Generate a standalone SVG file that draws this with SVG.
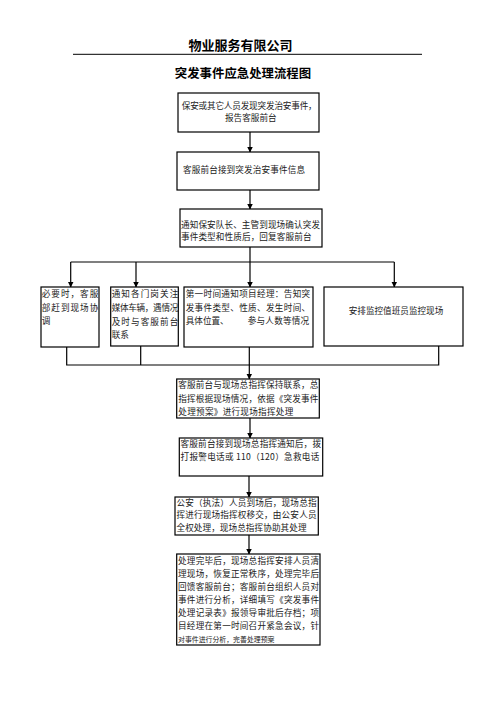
<svg xmlns="http://www.w3.org/2000/svg" width="496" height="702" viewBox="0 0 496 702">
<style>
.box{fill:#fff;stroke:#000;stroke-width:1.2}
.t{font-family:"Noto Sans CJK SC","Liberation Serif",serif;font-size:8.6px;fill:#222}
.c{stroke:#000;stroke-width:1.2;fill:none}
.a{marker-end:url(#ah)}
.h{font-family:"Noto Sans CJK SC","Liberation Sans",sans-serif;font-weight:bold;fill:#000}
</style>
<defs>
<marker id="ah" markerUnits="userSpaceOnUse" markerWidth="6" markerHeight="6" refX="5.5" refY="3" orient="auto">
<path d="M0,0 L6,3 L0,6 z" fill="#000"/>
</marker>
</defs>
<rect width="496" height="702" fill="#fff"/>
<g id="header">
<text class="h" x="240.5" y="49.5" font-size="13" text-anchor="middle">物业服务有限公司</text>
<line x1="73" y1="54.3" x2="422" y2="54.3" stroke="#000" stroke-width="1"/>
<text class="h" x="243" y="78" font-size="12.4" text-anchor="middle">突发事件应急处理流程图</text>
</g>
<g id="connectors">
<line class="c a" x1="250" y1="132" x2="250" y2="152"/>
<line class="c a" x1="250" y1="190" x2="250" y2="209"/>
<line class="c" x1="250" y1="247" x2="250" y2="262"/>
<line class="c" x1="70.7" y1="262" x2="394.3" y2="262"/>
<line class="c a" x1="70.7" y1="262" x2="70.7" y2="287"/>
<line class="c a" x1="136" y1="262" x2="136" y2="287"/>
<line class="c a" x1="250" y1="262" x2="250" y2="287"/>
<line class="c a" x1="394.3" y1="262" x2="394.3" y2="287"/>
<path class="c" d="M66.7,346 V365 H438.7 V346 M140.7,346 V365"/>
<line class="c a" x1="249.3" y1="347" x2="249.3" y2="379"/>
<line class="c a" x1="250" y1="418" x2="250" y2="438"/>
<line class="c a" x1="249" y1="476" x2="249" y2="497"/>
<line class="c a" x1="249" y1="535" x2="249" y2="554"/>
</g>
<g id="n1">
<rect class="box" x="178" y="93" width="141" height="39"/>
<text class="t" x="181.7" y="109.2" textLength="135" lengthAdjust="spacing">保安或其它人员发现突发治安事件，</text>
<text class="t" x="225" y="121.2">报告客服前台</text>
</g>
<g id="n2">
<rect class="box" x="177" y="152" width="142" height="38"/>
<text class="t" x="183" y="173.2" textLength="122" lengthAdjust="spacing">客服前台接到突发治安事件信息</text>
</g>
<g id="n3">
<rect class="box" x="180" y="209" width="142" height="38"/>
<text class="t" x="181" y="227.7" textLength="139" lengthAdjust="spacing">通知保安队长、主管到现场确认突发</text>
<text class="t" x="181" y="240.2" textLength="130.5" lengthAdjust="spacing">事件类型和性质后，回复客服前台</text>
</g>
<g id="n4">
<rect class="box" x="41" y="287" width="58" height="60"/>
<text class="t" x="41.7" y="296.5" textLength="56.6" lengthAdjust="spacing">必要时，客服</text>
<text class="t" x="41.7" y="310.9" textLength="56.6" lengthAdjust="spacing">部赶到现场协</text>
<text class="t" x="41.7" y="323.9">调</text>
</g>
<g id="n5">
<rect class="box" x="110.7" y="287" width="67.6" height="59"/>
<text class="t" x="111.7" y="296.5" textLength="66.6" lengthAdjust="spacing">通知各门岗关注</text>
<text class="t" x="111.7" y="310.9" textLength="66.6" lengthAdjust="spacing">媒体车辆，遇情况</text>
<text class="t" x="111.7" y="324.9" textLength="66.6" lengthAdjust="spacing">及时与客服前台</text>
<text class="t" x="111.7" y="337.5">联系</text>
</g>
<g id="n6">
<rect class="box" x="184" y="287" width="129" height="60"/>
<text class="t" x="185.7" y="296.5" textLength="124.5" lengthAdjust="spacing">第一时间通知项目经理：告知突</text>
<text class="t" x="185.7" y="310.9" textLength="124.5" lengthAdjust="spacing">发事件类型、性质、发生时间、</text>
<text class="t" x="185.7" y="323.9">具体位置、</text>
<text class="t" x="247.7" y="323.9" textLength="61.5" lengthAdjust="spacing">参与人数等情况</text>
</g>
<g id="n7">
<rect class="box" x="324" y="287" width="139" height="59"/>
<text class="t" x="396" y="313.9" text-anchor="middle">安排监控值班员监控现场</text>
</g>
<g id="n8">
<rect class="box" x="176.7" y="379" width="142.6" height="39"/>
<text class="t" x="178.3" y="388.2" textLength="140" lengthAdjust="spacing">客服前台与现场总指挥保持联系，总</text>
<text class="t" x="178.3" y="402.2" textLength="140" lengthAdjust="spacing">指挥根据现场情况，依据《突发事件</text>
<text class="t" x="178.3" y="415.2" textLength="115" lengthAdjust="spacing">处理预案》进行现场指挥处理</text>
</g>
<g id="n9">
<rect class="box" x="179.3" y="438" width="143.4" height="38"/>
<text class="t" x="180.5" y="446.5" textLength="140.5" lengthAdjust="spacing">客服前台接到现场总指挥通知后，拨</text>
<text class="t" x="180.5" y="460" textLength="138.8" lengthAdjust="spacing">打报警电话或 110（120）急救电话</text>
</g>
<g id="n10">
<rect class="box" x="175" y="497" width="143.3" height="38"/>
<text class="t" x="176.5" y="505.5" textLength="140" lengthAdjust="spacing">公安（执法）人员到场后，现场总指</text>
<text class="t" x="176.5" y="518.2" textLength="140" lengthAdjust="spacing">挥进行现场指挥权移交，由公安人员</text>
<text class="t" x="176.5" y="531" textLength="130" lengthAdjust="spacing">全权处理，现场总指挥协助其处理</text>
</g>
<g id="n11">
<rect class="box" x="176.7" y="554" width="143.3" height="91"/>
<text class="t" x="178" y="564.2" textLength="141" lengthAdjust="spacing">处理完毕后，现场总指挥安排人员清</text>
<text class="t" x="178" y="577.2" textLength="141" lengthAdjust="spacing">理现场，恢复正常秩序，处理完毕后</text>
<text class="t" x="178" y="590.2" textLength="141" lengthAdjust="spacing">回馈客服前台；客服前台组织人员对</text>
<text class="t" x="178" y="603.2" textLength="141" lengthAdjust="spacing">事件进行分析，详细填写《突发事件</text>
<text class="t" x="178" y="616.2" textLength="141" lengthAdjust="spacing">处理记录表》报领导审批后存档；项</text>
<text class="t" x="178" y="629.2" textLength="141" lengthAdjust="spacing">目经理在第一时间召开紧急会议，针</text>
<text class="t" x="178" y="642" style="font-size:6.9px">对事件进行分析，完善处理预案</text>
</g>
</svg>
